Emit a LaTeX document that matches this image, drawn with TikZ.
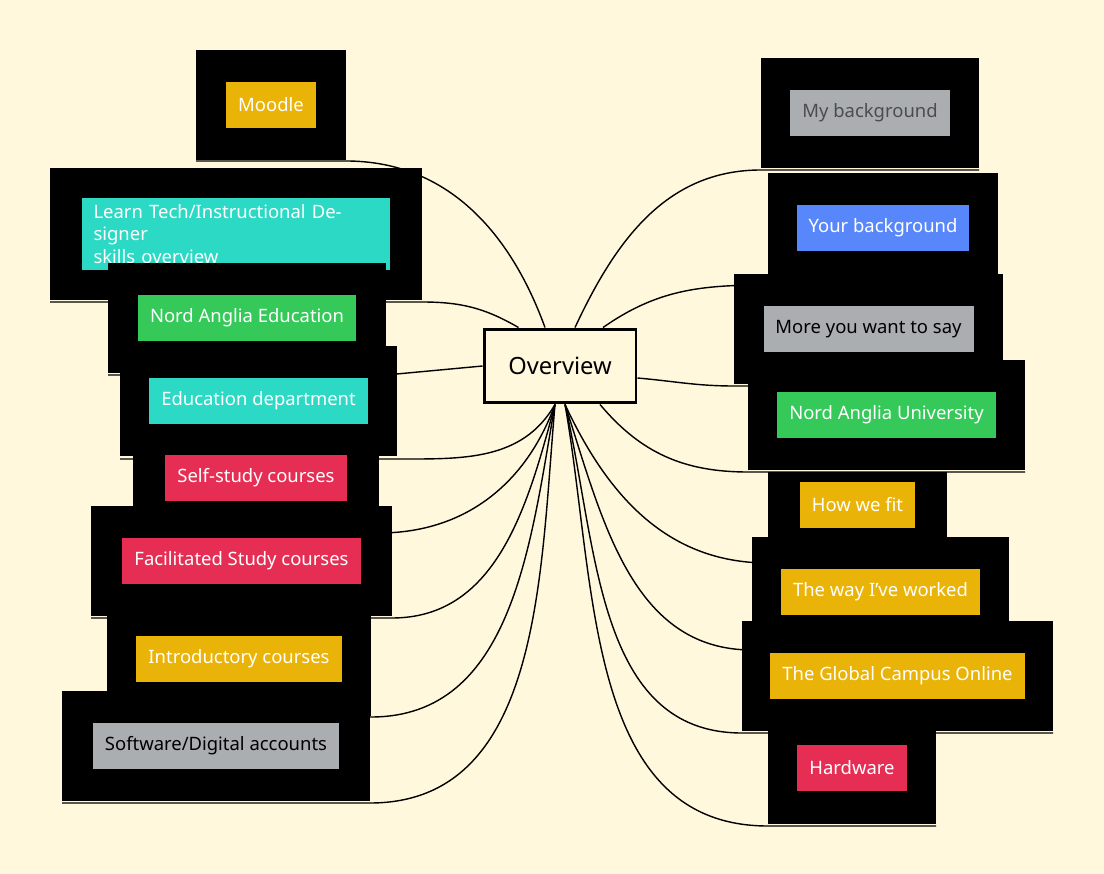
\documentclass[tikz,border=0pt]{standalone}
\usepackage{fontspec}
\setmainfont{Noto Sans}
\usetikzlibrary{positioning, calc}
\definecolor{mycream}{RGB}{255,248,220}
\definecolor{myorange}{RGB}{234,179,8}
\definecolor{myteal}{RGB}{43,217,196}
\definecolor{mygreen}{RGB}{52,201,89}
\definecolor{myred}{RGB}{230,46,84}
\definecolor{myblue}{RGB}{87,135,250}
\definecolor{mygray}{RGB}{170,174,176}
\begin{document}
\begin{tikzpicture}[
    x=0.02cm, y=-0.02cm,
    every node/.style  = {font=\fontsize{10.5}{13}\selectfont},
    backBox/.style     = {rectangle, fill=black, minimum height=2.2cm, inner sep=0pt},
    leafNode/.style    = {rectangle, text=white, minimum height=0.92cm, inner xsep=0.24cm, align=left},
    rootNode/.style    = {rectangle, draw=black, line width=1.7pt, fill=mycream, minimum width=3.04cm, minimum height=1.48cm, font=\fontsize{13.5}{16}\selectfont},
    link/.style        = {black, line width=0.8pt}
]
    \fill[mycream] (0,0) rectangle (1104,874);
    \useasboundingbox (0,0) rectangle (1104,874);

    \node[rootNode] (overview) at (560,366) {Overview};

    % ends of the connectors, at the box corners
    \coordinate (moodleEnd)  at (346,161);
    \coordinate (learnEnd)   at (422,302);
    \coordinate (naeEnd)     at (386,375);
    \coordinate (eduEnd)     at (397,459);
    \coordinate (selfEnd)    at (379,533);
    \coordinate (facEnd)     at (392,618);
    \coordinate (introEnd)   at (371,717);
    \coordinate (softEnd)    at (370,803);

    \coordinate (mybgEnd)    at (761,170);
    \coordinate (yourbgEnd)  at (768,285);
    \coordinate (moreEnd)    at (734,386);
    \coordinate (nauEnd)     at (748,472);
    \coordinate (fitEnd)     at (768,563);
    \coordinate (wayEnd)     at (752,650);
    \coordinate (globalEnd)  at (742,733);
    \coordinate (hwEnd)      at (768,826);

    \draw[link] ($(overview.north)+(-15,0)$) to[out=110, in=0] (moodleEnd) -- ++(-150,0);
    \draw[link] ($(overview.north west)+(36,0)$) to[out=150, in=0] (learnEnd) -- ++(-372,0);
    \draw[link] (overview.west) -- (naeEnd) -- ++(-278,0);
    \draw[link] ($(overview.south)+(-5,0)$) to[out=240, in=0] (eduEnd) -- ++(-277,0);
    \draw[link] ($(overview.south)+(-5,0)$) to[out=250, in=0] (selfEnd) -- ++(-246,0);
    \draw[link] ($(overview.south)+(-5,0)$) to[out=255, in=0] (facEnd) -- ++(-301,0);
    \draw[link] ($(overview.south)+(-5,0)$) to[out=260, in=0] (introEnd) -- ++(-264,0);
    \draw[link] ($(overview.south)+(-5,0)$) to[out=265, in=0] (softEnd) -- ++(-308,0);

    \draw[link] ($(overview.north)+(15,0)$) to[out=65, in=180] (mybgEnd) -- ++(218,0);
    \draw[link] ($(overview.north)+(43,0)$) to[out=35, in=180] (yourbgEnd) -- ++(230,0);
    \draw[link] ($(overview.east)+(0,12)$) to[out=-5, in=180] (moreEnd) -- ++(269,0);
    \draw[link] ($(overview.south)+(40,0)$) to[out=-50, in=180] (nauEnd) -- ++(277,0);
    \draw[link] ($(overview.south)+(5,0)$) to[out=-65, in=180] (fitEnd) -- ++(179,0);
    \draw[link] ($(overview.south)+(5,0)$) to[out=-72, in=180] (wayEnd) -- ++(257,0);
    \draw[link] ($(overview.south)+(5,0)$) to[out=-77, in=180] (globalEnd) -- ++(311,0);
    \draw[link] ($(overview.south)+(5,0)$) to[out=-80, in=180] (hwEnd) -- ++(168,0);

    % left side
    \node[backBox, minimum width=3cm] (moodleBox) at (271,105) {};
    \node[leafNode, fill=myorange] (moodle) at (271,105) {Moodle};

    \node[backBox, minimum width=7.44cm, minimum height=2.64cm] (learnBox) at (236,234) {};
    \node[leafNode, fill=myteal, minimum width=6.16cm, minimum height=1.36cm, text width=5.7cm] (learn) at (236,234) {Learn Tech/Instructional Designer\\skills overview};

    \node[backBox, minimum width=5.56cm] (naeBox) at (247,318) {};
    \node[leafNode, fill=mygreen] (nae) at (247,318) {Nord Anglia Education};

    \node[backBox, minimum width=5.54cm] (eduBox) at (258.5,401) {};
    \node[leafNode, fill=myteal] (edu) at (258.5,401) {Education department};

    \node[backBox, minimum width=4.92cm, minimum height=1.7cm] (selfBox) at (256,489.5) {};
    \node[leafNode, fill=myred] (self) at (256,478) {Self-study courses};

    \node[backBox, minimum width=6.02cm] (facBox) at (241.5,561) {};
    \node[leafNode, fill=myred] (fac) at (241.5,561) {Facilitated Study courses};

    \node[backBox, minimum width=5.28cm, minimum height=2cm] (introBox) at (239,666) {};
    \node[leafNode, fill=myorange] (intro) at (239,659) {Introductory courses};

    \node[backBox, minimum width=6.16cm] (softBox) at (216,746) {};
    \node[leafNode, fill=mygray, text=black] (soft) at (216,746) {Software/Digital accounts};

    % right side
    \node[backBox, minimum width=4.36cm] (mybgBox) at (870,113) {};
    \node[leafNode, fill=mygray, text=black!70] (mybg) at (870,113) {My background};

    \node[backBox, minimum width=4.6cm] (yourbgBox) at (883,228) {};
    \node[leafNode, fill=myblue] (yourbg) at (883,228) {Your background};

    \node[backBox, minimum width=5.38cm] (moreBox) at (868.5,329) {};
    \node[leafNode, fill=mygray, text=black] (more) at (868.5,329) {More you want to say};

    \node[backBox, minimum width=5.54cm] (nauBox) at (886.5,415) {};
    \node[leafNode, fill=mygreen] (nau) at (886.5,415) {Nord Anglia University};

    \node[backBox, minimum width=3.58cm, minimum height=1.82cm] (fitBox) at (857.5,517.5) {};
    \node[leafNode, fill=myorange] (fit) at (857.5,505) {How we fit};

    \node[backBox, minimum width=5.14cm] (wayBox) at (880.5,592) {};
    \node[leafNode, fill=myorange] (way) at (880.5,592) {The way I've worked};

    \node[backBox, minimum width=6.22cm] (globalBox) at (897.5,676) {};
    \node[leafNode, fill=myorange] (global) at (897.5,676) {The Global Campus Online};

    \node[backBox, minimum width=3.36cm, minimum height=2.04cm] (hwBox) at (852,773) {};
    \node[leafNode, fill=myred] (hw) at (852,768) {Hardware};
\end{tikzpicture}
\end{document}
